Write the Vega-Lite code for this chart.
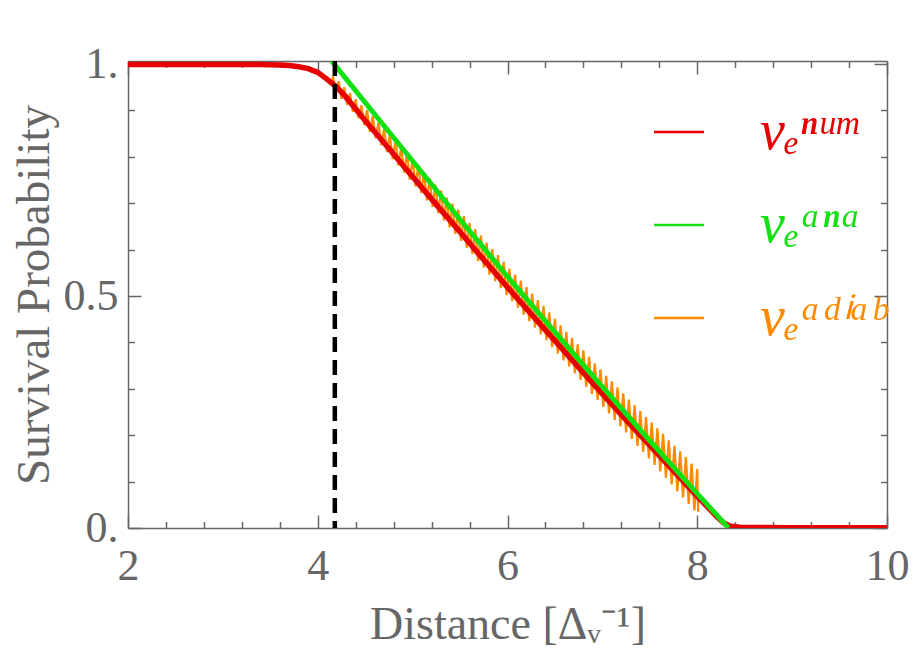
{
  "$schema": "https://vega.github.io/schema/vega-lite/v6.json",
  "width": 759,
  "height": 467,
  "autosize": {"type": "none"},
  "padding": {"left": 128, "top": 61, "right": 27, "bottom": 125},
  "background": "white",
  "config": {"view": {"stroke": null}, "font": "Liberation Serif"},
  "datasets": {
    "curves": [
      {"series": "num", "x": 2.0, "y": 0.999},
      {"series": "num", "x": 2.5, "y": 0.999},
      {"series": "num", "x": 3.0, "y": 0.999},
      {"series": "num", "x": 3.4, "y": 0.999},
      {"series": "num", "x": 3.6, "y": 0.998},
      {"series": "num", "x": 3.7, "y": 0.997},
      {"series": "num", "x": 3.8, "y": 0.994},
      {"series": "num", "x": 3.9, "y": 0.99},
      {"series": "num", "x": 4.0, "y": 0.982},
      {"series": "num", "x": 4.1, "y": 0.967},
      {"series": "num", "x": 4.2, "y": 0.95},
      {"series": "num", "x": 4.3, "y": 0.928},
      {"series": "num", "x": 4.4, "y": 0.903},
      {"series": "num", "x": 4.5, "y": 0.878},
      {"series": "num", "x": 4.75, "y": 0.818},
      {"series": "num", "x": 5.0, "y": 0.757},
      {"series": "num", "x": 5.25, "y": 0.697},
      {"series": "num", "x": 5.5, "y": 0.638},
      {"series": "num", "x": 5.75, "y": 0.578},
      {"series": "num", "x": 6.0, "y": 0.519},
      {"series": "num", "x": 6.25, "y": 0.461},
      {"series": "num", "x": 6.5, "y": 0.404},
      {"series": "num", "x": 6.75, "y": 0.346},
      {"series": "num", "x": 7.0, "y": 0.289},
      {"series": "num", "x": 7.25, "y": 0.233},
      {"series": "num", "x": 7.5, "y": 0.178},
      {"series": "num", "x": 7.75, "y": 0.123},
      {"series": "num", "x": 8.0, "y": 0.068},
      {"series": "num", "x": 8.1, "y": 0.047},
      {"series": "num", "x": 8.2, "y": 0.026},
      {"series": "num", "x": 8.28, "y": 0.011},
      {"series": "num", "x": 8.35, "y": 0.004},
      {"series": "num", "x": 8.45, "y": 0.0015},
      {"series": "num", "x": 8.6, "y": 0.001},
      {"series": "num", "x": 9.0, "y": 0.0008},
      {"series": "num", "x": 9.5, "y": 0.0008},
      {"series": "num", "x": 10.0, "y": 0.0008},
      {"series": "ana", "x": 4.147, "y": 1.0065},
      {"series": "ana", "x": 4.5, "y": 0.917},
      {"series": "ana", "x": 5.0, "y": 0.791},
      {"series": "ana", "x": 5.5, "y": 0.665},
      {"series": "ana", "x": 6.0, "y": 0.542},
      {"series": "ana", "x": 6.5, "y": 0.422},
      {"series": "ana", "x": 7.0, "y": 0.304},
      {"series": "ana", "x": 7.5, "y": 0.188},
      {"series": "ana", "x": 8.0, "y": 0.074},
      {"series": "ana", "x": 8.33, "y": 0.0},
      {"series": "adiab", "x": 4.15, "y": 0.958},
      {"series": "adiab", "x": 4.16, "y": 0.974},
      {"series": "adiab", "x": 4.19, "y": 0.938},
      {"series": "adiab", "x": 4.22, "y": 0.963},
      {"series": "adiab", "x": 4.25, "y": 0.925},
      {"series": "adiab", "x": 4.28, "y": 0.95},
      {"series": "adiab", "x": 4.31, "y": 0.912},
      {"series": "adiab", "x": 4.34, "y": 0.937},
      {"series": "adiab", "x": 4.37, "y": 0.897},
      {"series": "adiab", "x": 4.4, "y": 0.924},
      {"series": "adiab", "x": 4.43, "y": 0.883},
      {"series": "adiab", "x": 4.46, "y": 0.911},
      {"series": "adiab", "x": 4.49, "y": 0.868},
      {"series": "adiab", "x": 4.52, "y": 0.901},
      {"series": "adiab", "x": 4.55, "y": 0.854},
      {"series": "adiab", "x": 4.58, "y": 0.888},
      {"series": "adiab", "x": 4.61, "y": 0.84},
      {"series": "adiab", "x": 4.64, "y": 0.874},
      {"series": "adiab", "x": 4.67, "y": 0.825},
      {"series": "adiab", "x": 4.7, "y": 0.861},
      {"series": "adiab", "x": 4.73, "y": 0.81},
      {"series": "adiab", "x": 4.76, "y": 0.848},
      {"series": "adiab", "x": 4.79, "y": 0.795},
      {"series": "adiab", "x": 4.82, "y": 0.835},
      {"series": "adiab", "x": 4.85, "y": 0.781},
      {"series": "adiab", "x": 4.88, "y": 0.822},
      {"series": "adiab", "x": 4.91, "y": 0.766},
      {"series": "adiab", "x": 4.94, "y": 0.809},
      {"series": "adiab", "x": 4.97, "y": 0.751},
      {"series": "adiab", "x": 5.0, "y": 0.795},
      {"series": "adiab", "x": 5.03, "y": 0.736},
      {"series": "adiab", "x": 5.06, "y": 0.782},
      {"series": "adiab", "x": 5.09, "y": 0.722},
      {"series": "adiab", "x": 5.12, "y": 0.767},
      {"series": "adiab", "x": 5.15, "y": 0.706},
      {"series": "adiab", "x": 5.18, "y": 0.754},
      {"series": "adiab", "x": 5.21, "y": 0.692},
      {"series": "adiab", "x": 5.24, "y": 0.74},
      {"series": "adiab", "x": 5.27, "y": 0.678},
      {"series": "adiab", "x": 5.3, "y": 0.727},
      {"series": "adiab", "x": 5.33, "y": 0.663},
      {"series": "adiab", "x": 5.36, "y": 0.712},
      {"series": "adiab", "x": 5.39, "y": 0.648},
      {"series": "adiab", "x": 5.42, "y": 0.699},
      {"series": "adiab", "x": 5.45, "y": 0.634},
      {"series": "adiab", "x": 5.48, "y": 0.686},
      {"series": "adiab", "x": 5.51, "y": 0.619},
      {"series": "adiab", "x": 5.54, "y": 0.672},
      {"series": "adiab", "x": 5.57, "y": 0.604},
      {"series": "adiab", "x": 5.6, "y": 0.657},
      {"series": "adiab", "x": 5.63, "y": 0.59},
      {"series": "adiab", "x": 5.66, "y": 0.644},
      {"series": "adiab", "x": 5.69, "y": 0.575},
      {"series": "adiab", "x": 5.72, "y": 0.63},
      {"series": "adiab", "x": 5.75, "y": 0.561},
      {"series": "adiab", "x": 5.78, "y": 0.615},
      {"series": "adiab", "x": 5.81, "y": 0.546},
      {"series": "adiab", "x": 5.84, "y": 0.601},
      {"series": "adiab", "x": 5.87, "y": 0.532},
      {"series": "adiab", "x": 5.9, "y": 0.588},
      {"series": "adiab", "x": 5.93, "y": 0.517},
      {"series": "adiab", "x": 5.96, "y": 0.574},
      {"series": "adiab", "x": 5.99, "y": 0.502},
      {"series": "adiab", "x": 6.02, "y": 0.559},
      {"series": "adiab", "x": 6.05, "y": 0.489},
      {"series": "adiab", "x": 6.08, "y": 0.546},
      {"series": "adiab", "x": 6.11, "y": 0.475},
      {"series": "adiab", "x": 6.14, "y": 0.533},
      {"series": "adiab", "x": 6.17, "y": 0.46},
      {"series": "adiab", "x": 6.2, "y": 0.519},
      {"series": "adiab", "x": 6.23, "y": 0.446},
      {"series": "adiab", "x": 6.26, "y": 0.505},
      {"series": "adiab", "x": 6.29, "y": 0.432},
      {"series": "adiab", "x": 6.32, "y": 0.491},
      {"series": "adiab", "x": 6.35, "y": 0.418},
      {"series": "adiab", "x": 6.38, "y": 0.479},
      {"series": "adiab", "x": 6.41, "y": 0.405},
      {"series": "adiab", "x": 6.44, "y": 0.465},
      {"series": "adiab", "x": 6.47, "y": 0.39},
      {"series": "adiab", "x": 6.5, "y": 0.451},
      {"series": "adiab", "x": 6.53, "y": 0.376},
      {"series": "adiab", "x": 6.56, "y": 0.437},
      {"series": "adiab", "x": 6.59, "y": 0.361},
      {"series": "adiab", "x": 6.62, "y": 0.423},
      {"series": "adiab", "x": 6.65, "y": 0.348},
      {"series": "adiab", "x": 6.68, "y": 0.41},
      {"series": "adiab", "x": 6.71, "y": 0.333},
      {"series": "adiab", "x": 6.74, "y": 0.396},
      {"series": "adiab", "x": 6.77, "y": 0.319},
      {"series": "adiab", "x": 6.8, "y": 0.383},
      {"series": "adiab", "x": 6.83, "y": 0.304},
      {"series": "adiab", "x": 6.86, "y": 0.369},
      {"series": "adiab", "x": 6.89, "y": 0.289},
      {"series": "adiab", "x": 6.92, "y": 0.355},
      {"series": "adiab", "x": 6.95, "y": 0.276},
      {"series": "adiab", "x": 6.98, "y": 0.342},
      {"series": "adiab", "x": 7.01, "y": 0.261},
      {"series": "adiab", "x": 7.04, "y": 0.328},
      {"series": "adiab", "x": 7.07, "y": 0.247},
      {"series": "adiab", "x": 7.1, "y": 0.316},
      {"series": "adiab", "x": 7.13, "y": 0.233},
      {"series": "adiab", "x": 7.16, "y": 0.303},
      {"series": "adiab", "x": 7.19, "y": 0.219},
      {"series": "adiab", "x": 7.22, "y": 0.29},
      {"series": "adiab", "x": 7.25, "y": 0.206},
      {"series": "adiab", "x": 7.28, "y": 0.277},
      {"series": "adiab", "x": 7.31, "y": 0.192},
      {"series": "adiab", "x": 7.34, "y": 0.265},
      {"series": "adiab", "x": 7.37, "y": 0.177},
      {"series": "adiab", "x": 7.4, "y": 0.252},
      {"series": "adiab", "x": 7.43, "y": 0.164},
      {"series": "adiab", "x": 7.46, "y": 0.239},
      {"series": "adiab", "x": 7.49, "y": 0.15},
      {"series": "adiab", "x": 7.52, "y": 0.227},
      {"series": "adiab", "x": 7.55, "y": 0.136},
      {"series": "adiab", "x": 7.58, "y": 0.215},
      {"series": "adiab", "x": 7.61, "y": 0.122},
      {"series": "adiab", "x": 7.64, "y": 0.203},
      {"series": "adiab", "x": 7.67, "y": 0.108},
      {"series": "adiab", "x": 7.7, "y": 0.189},
      {"series": "adiab", "x": 7.73, "y": 0.094},
      {"series": "adiab", "x": 7.76, "y": 0.177},
      {"series": "adiab", "x": 7.79, "y": 0.079},
      {"series": "adiab", "x": 7.82, "y": 0.165},
      {"series": "adiab", "x": 7.85, "y": 0.066},
      {"series": "adiab", "x": 7.88, "y": 0.153},
      {"series": "adiab", "x": 7.91, "y": 0.052},
      {"series": "adiab", "x": 7.94, "y": 0.139},
      {"series": "adiab", "x": 7.97, "y": 0.038},
      {"series": "adiab", "x": 8.0, "y": 0.127},
      {"series": "adiab", "x": 8.01, "y": 0.035}
    ],
    "marker": [{"x": 4.18}]
  },
  "layer": [
    {
      "data": {"name": "curves"},
      "transform": [{"filter": "datum.series === 'adiab'"}],
      "mark": {"type": "line", "strokeWidth": 2.2, "clip": true},
      "encoding": {
        "x": {
          "field": "x", "type": "quantitative",
          "scale": {"domain": [2, 10], "nice": false, "zero": false},
          "axis": {
            "orient": "bottom",
            "values": [2, 2.4, 2.8, 3.2, 3.6, 4, 4.4, 4.8, 5.2, 5.6, 6, 6.4, 6.8, 7.2, 7.6, 8, 8.4, 8.8, 9.2, 9.6, 10],
            "labelExpr": "datum.value % 2 == 0 ? '' + datum.value : ''",
            "tickSize": {"condition": {"test": "datum.value % 2 == 0", "value": -13}, "value": -6.5},
            "tickColor": "#666666", "tickWidth": 1.5,
            "domainColor": "#666666", "domainWidth": 1.5,
            "labelFont": "Liberation Serif", "labelFontSize": 44, "labelColor": "#666666",
            "labelPadding": 29, "labelFlush": false, "labelOverlap": false, "grid": false,
            "title": "Distance [Δᵥ⁻¹]",
            "titleFont": "Liberation Serif", "titleFontSize": 46, "titleFontWeight": "normal",
            "titleColor": "#666666", "titlePadding": 8
          }
        },
        "y": {
          "field": "y", "type": "quantitative",
          "scale": {"domain": [0, 1.0065], "nice": false, "zero": false},
          "axis": {
            "orient": "left",
            "values": [0, 0.1, 0.2, 0.3, 0.4, 0.5, 0.6, 0.7, 0.8, 0.9, 1],
            "labelExpr": "datum.value == 1 ? '1.' : datum.value == 0.5 ? '0.5' : datum.value == 0 ? '0.' : ''",
            "tickSize": {"condition": {"test": "datum.value == 0 || datum.value == 0.5 || datum.value == 1", "value": -13}, "value": -6.5},
            "tickColor": "#666666", "tickWidth": 1.5,
            "domainColor": "#666666", "domainWidth": 1.5,
            "labelFont": "Liberation Serif", "labelFontSize": 44, "labelColor": "#666666",
            "labelPadding": 23, "labelFlush": false, "labelOverlap": false, "grid": false,
            "title": "Survival Probability",
            "titleFont": "Liberation Serif", "titleFontSize": 47, "titleFontWeight": "normal",
            "titleColor": "#666666", "titlePadding": 5
          }
        },
        "color": {
          "field": "series", "type": "nominal",
          "scale": {"domain": ["num", "ana", "adiab"], "range": ["#E80000", "#11E011", "#FF8A00"]},
          "legend": {
            "orient": "none", "legendX": 523, "legendY": 43, "title": null,
            "symbolType": "stroke", "symbolSize": 2500, "symbolStrokeWidth": 2.5,
            "labelFont": "Liberation Serif", "labelFontSize": 56, "labelFontStyle": "italic",
            "labelOffset": 53, "rowPadding": 37, "padding": 0, "labelLimit": 0,
            "labelExpr": "datum.value == 'num' ? 'νₑⁿᵘᵐ' : datum.value == 'ana' ? 'νₑᵃⁿᵃ' : 'νₑᵃᵈⁱᵃᵇ'",
            "encode": {"labels": {"update": {"fill": {"scale": "color", "field": "value"}}}}
          }
        }
      }
    },
    {
      "data": {"name": "curves"},
      "transform": [{"filter": "datum.series === 'num'"}],
      "mark": {"type": "line", "strokeWidth": 5.5, "clip": true},
      "encoding": {
        "x": {
          "field": "x", "type": "quantitative",
          "scale": {"domain": [2, 10], "nice": false, "zero": false},
          "axis": {
            "orient": "top",
            "values": [2, 2.4, 2.8, 3.2, 3.6, 4, 4.4, 4.8, 5.2, 5.6, 6, 6.4, 6.8, 7.2, 7.6, 8, 8.4, 8.8, 9.2, 9.6, 10],
            "labels": false,
            "tickSize": {"condition": {"test": "datum.value % 2 == 0", "value": -13}, "value": -6.5},
            "tickColor": "#666666", "tickWidth": 1.5,
            "domainColor": "#666666", "domainWidth": 1.5,
            "grid": false, "title": null
          }
        },
        "y": {
          "field": "y", "type": "quantitative",
          "scale": {"domain": [0, 1.0065], "nice": false, "zero": false},
          "axis": {
            "orient": "right",
            "values": [0, 0.1, 0.2, 0.3, 0.4, 0.5, 0.6, 0.7, 0.8, 0.9, 1],
            "labels": false,
            "tickSize": {"condition": {"test": "datum.value == 0 || datum.value == 0.5 || datum.value == 1", "value": -13}, "value": -6.5},
            "tickColor": "#666666", "tickWidth": 1.5,
            "domainColor": "#666666", "domainWidth": 1.5,
            "grid": false, "title": null
          }
        },
        "color": {"field": "series", "type": "nominal"}
      }
    },
    {
      "data": {"name": "curves"},
      "transform": [{"filter": "datum.series === 'ana'"}],
      "mark": {"type": "line", "strokeWidth": 5, "clip": true},
      "encoding": {
        "x": {"field": "x", "type": "quantitative", "scale": {"domain": [2, 10], "nice": false, "zero": false}, "axis": null},
        "y": {"field": "y", "type": "quantitative", "scale": {"domain": [0, 1.0065], "nice": false, "zero": false}, "axis": null},
        "color": {"field": "series", "type": "nominal"}
      }
    },
    {
      "data": {"name": "marker"},
      "mark": {"type": "rule", "strokeDash": [15, 8], "strokeWidth": 4.5, "color": "black"},
      "encoding": {
        "x": {"field": "x", "type": "quantitative", "scale": {"domain": [2, 10], "nice": false, "zero": false}, "axis": null}
      }
    }
  ],
  "resolve": {"axis": {"x": "independent", "y": "independent"}}
}
